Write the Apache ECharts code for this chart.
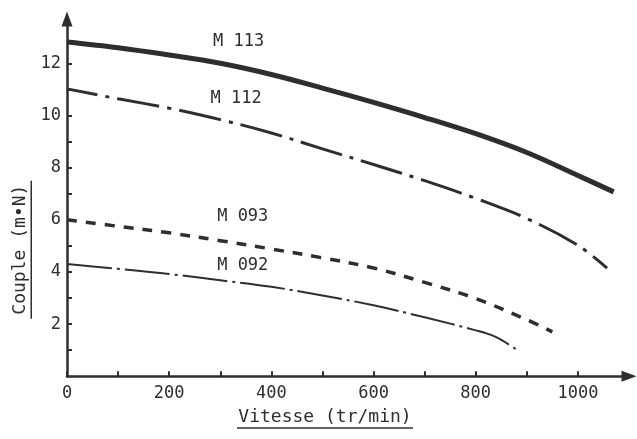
<!DOCTYPE html>
<html>
<head>
<meta charset="utf-8">
<script src="https://cdn.jsdelivr.net/npm/echarts@6/dist/echarts.min.js"></script>
<style>
html,body{margin:0;padding:0;background:#fff}
#main{width:637px;height:439px}
</style>
</head>
<body>
<div id="main"></div>
<script>
// axes
var speedTicks = [0, 100, 200, 300, 400, 500, 600, 700, 800, 900, 1000];
var speedLabels = [0, 200, 400, 600, 800, 1000];
var torqueTicks = [1, 2, 3, 4, 5, 6, 7, 8, 9, 10, 11, 12];
var torqueLabels = [2, 4, 6, 8, 10, 12];

// couple (m.N) en fonction de la vitesse (tr/min)
var m113 = [[0,12.82],[100,12.6],[200,12.32],[300,12.0],[400,11.57],[500,11.05],[600,10.5],[700,9.92],[800,9.3],[900,8.58],[1000,7.7],[1070,7.07]];
var m112 = [[0,11.02],[100,10.64],[200,10.28],[300,9.84],[400,9.33],[500,8.72],[600,8.12],[700,7.5],[800,6.82],[900,6.05],[1000,5.02],[1057,4.15]];
var m093 = [[0,6.0],[100,5.75],[200,5.5],[300,5.2],[400,4.88],[500,4.54],[600,4.15],[700,3.6],[800,2.98],[900,2.17],[950,1.7]];
var m092 = [[0,4.3],[100,4.12],[200,3.92],[300,3.68],[400,3.43],[500,3.1],[600,2.72],[700,2.26],[800,1.76],[840,1.5],[880,1.02]];

var curveNames = ['M 113', 'M 112', 'M 093', 'M 092'];
var labelAnchors = [[336, 12.83], [331, 10.64], [344, 6.11], [344, 4.23]];

var ink = '#2e2e2e';
var mono = 'DejaVu Sans Mono';

var init = function(){
	var chart = echarts.init(document.getElementById('main'), null, {renderer: 'canvas'});

	function curve(i, data, style){
		return {
			name: curveNames[i],
			type: 'line',
			data: data,
			smooth: 0.35,
			showSymbol: false,
			animation: false,
			lineStyle: style,
			markPoint: {
				symbol: 'circle',
				symbolSize: 0,
				animation: false,
				label: {show: true, position: 'inside', formatter: '{b}', color: ink, fontFamily: mono, fontSize: 17},
				data: [{name: curveNames[i], coord: labelAnchors[i]}]
			}
		};
	}

	var option = {
		backgroundColor: '#fff',
		animation: false,
		grid: {left: 67, right: 8, top: 19, bottom: 57},
		xAxis: {
			type: 'value',
			min: 0,
			max: 1100,
			name: '{t|Vitesse (tr/min)}\n{u|}',
			nameLocation: 'middle',
			nameGap: 31,
			nameMoveOverlap: false,
			nameTextStyle: {
				padding: [0, 46, 0, 0],
				rich: {
					t: {fontFamily: mono, fontSize: 18, color: ink, lineHeight: 20},
					u: {width: 176, height: 1.5, backgroundColor: ink}
				}
			},
			axisLine: {lineStyle: {color: ink, width: 2.5}, symbol: ['none', 'triangle'], symbolSize: [11, 15]},
			axisTick: {inside: true, length: 5, customValues: speedTicks, lineStyle: {color: ink, width: 2}},
			axisLabel: {customValues: speedLabels, margin: 9, color: ink, fontFamily: mono, fontSize: 17,
				formatter: function(v){ return String(v); }},
			splitLine: {show: false}
		},
		yAxis: {
			type: 'value',
			min: 0,
			max: 13.7,
			name: '{t|Couple (m•N)}\n{u|}',
			nameLocation: 'middle',
			nameGap: 35,
			nameMoveOverlap: false,
			nameTextStyle: {
				padding: [0, 104, 0, 0],
				rich: {
					t: {fontFamily: mono, fontSize: 18, color: ink, lineHeight: 20},
					u: {width: 138, height: 1.5, backgroundColor: ink}
				}
			},
			axisLine: {lineStyle: {color: ink, width: 2.5}, symbol: ['none', 'triangle'], symbolSize: [11, 15]},
			axisTick: {inside: true, length: 5, customValues: torqueTicks, lineStyle: {color: ink, width: 2}},
			axisLabel: {customValues: torqueLabels, margin: 6, color: ink, fontFamily: mono, fontSize: 17},
			splitLine: {show: false}
		},
		series: [
			curve(0, m113, {color: ink, width: 5}),
			curve(1, m112, {color: ink, width: 3, type: [43, 8, 4, 8], dashOffset: 12}),
			curve(2, m093, {color: ink, width: 3.5, type: [10, 9]}),
			curve(3, m092, {color: ink, width: 2, type: [45, 5, 3, 5]})
		]
	};
	chart.setOption(option);
};

init();
</script>
</body>
</html>
